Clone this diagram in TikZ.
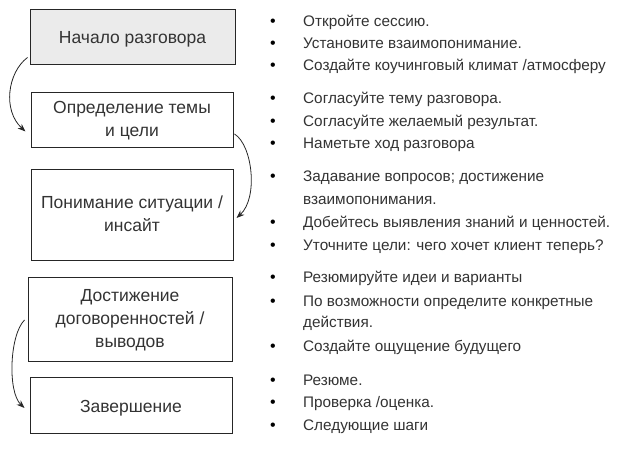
\documentclass[tikz,border=0pt]{standalone}
\usepackage{fontspec}
\setmainfont{Liberation Sans}
\usetikzlibrary{arrows.meta}

\begin{document}
\begin{tikzpicture}[x=1pt, y=-1pt,
		stage/.style={draw=black!85, line width=1pt, align=center, text=black!80, inner sep=0pt, font=\fontsize{17.5}{23}\selectfont,
			execute at begin node={\rule{0pt}{17pt}}, execute at end node={\rule[-4pt]{0pt}{4pt}}},
		item/.style={anchor=west, text=black!80, inner sep=0pt, text height=11pt, text depth=1pt, font=\fontsize{15.3}{18}\selectfont},
		dot/.style={text=black, inner sep=0pt, text height=11pt, text depth=1pt, font=\fontsize{16}{18}\selectfont},
		flow/.style={-{Stealth[length=8pt, width=6pt]}, line width=0.8pt, black!85}]
	\useasboundingbox (0,0) rectangle (622,449);
	% Stages
	\node[stage, fill=black!8, minimum width=205pt, minimum height=55pt] (stage1) at (132.5,37.5) {Начало разговора};
	\node[stage, minimum width=202pt, minimum height=55pt] (stage2) at (132,120.5) {Определение темы\\и цели};
	\node[stage, minimum width=202pt, minimum height=91pt] (stage3) at (132,215.5) {Понимание ситуации /\\инсайт};
	\node[stage, minimum width=204pt, minimum height=84pt] (stage4) at (130,320) {Достижение\\договоренностей /\\выводов};
	\node[stage, minimum width=202pt, minimum height=56pt] (stage5) at (131,406) {Завершение};
	% Items
	\foreach \y/\t [count=\i] in {21.5/{Откройте сессию.}, 43.5/{Установите взаимопонимание.}, 65.5/{Создайте коучинговый климат /атмосферу},
			99/{Согласуйте тему разговора.}, 121.5/{Согласуйте желаемый результат.}, 144/{Наметьте ход разговора},
			177/{Задавание вопросов; достижение}, 223/{Добейтесь выявления знаний и ценностей.}, 246/{Уточните цели: чего хочет клиент теперь?},
			278/{Резюмируйте идеи и варианты}, 301.5/{По возможности определите конкретные}, 346.5/{Создайте ощущение будущего},
			380/{Резюме.}, 402.5/{Проверка /оценка.}, 425.5/{Следующие шаги}} {
		\node[dot] (dot\i) at (273,\y) {\textbullet};
		\node[item] (item\i) at (303,\y) {\t};
	}
	\node[item] (cont1) at (303,200) {взаимопонимания.};
	\node[item] (cont2) at (303,323) {действия.};
	% Arrows
	\draw[flow] ([xshift=-2pt, yshift=8pt]stage1.south west) .. controls +(-20,15) and +(-23,-21) .. ([xshift=-5pt, yshift=17pt]stage2.south west);
	\draw[flow] ([xshift=1pt, yshift=-13.5pt]stage2.east) .. controls +(18,11) and +(22,-20) .. ([xshift=3pt, yshift=-2.5pt]stage3.east);
	\draw[flow] ([xshift=-3pt]stage4.west) .. controls +(-15,15) and +(-17,-16) .. ([xshift=-5pt, yshift=-2pt]stage5.west);
\end{tikzpicture}
\end{document}
